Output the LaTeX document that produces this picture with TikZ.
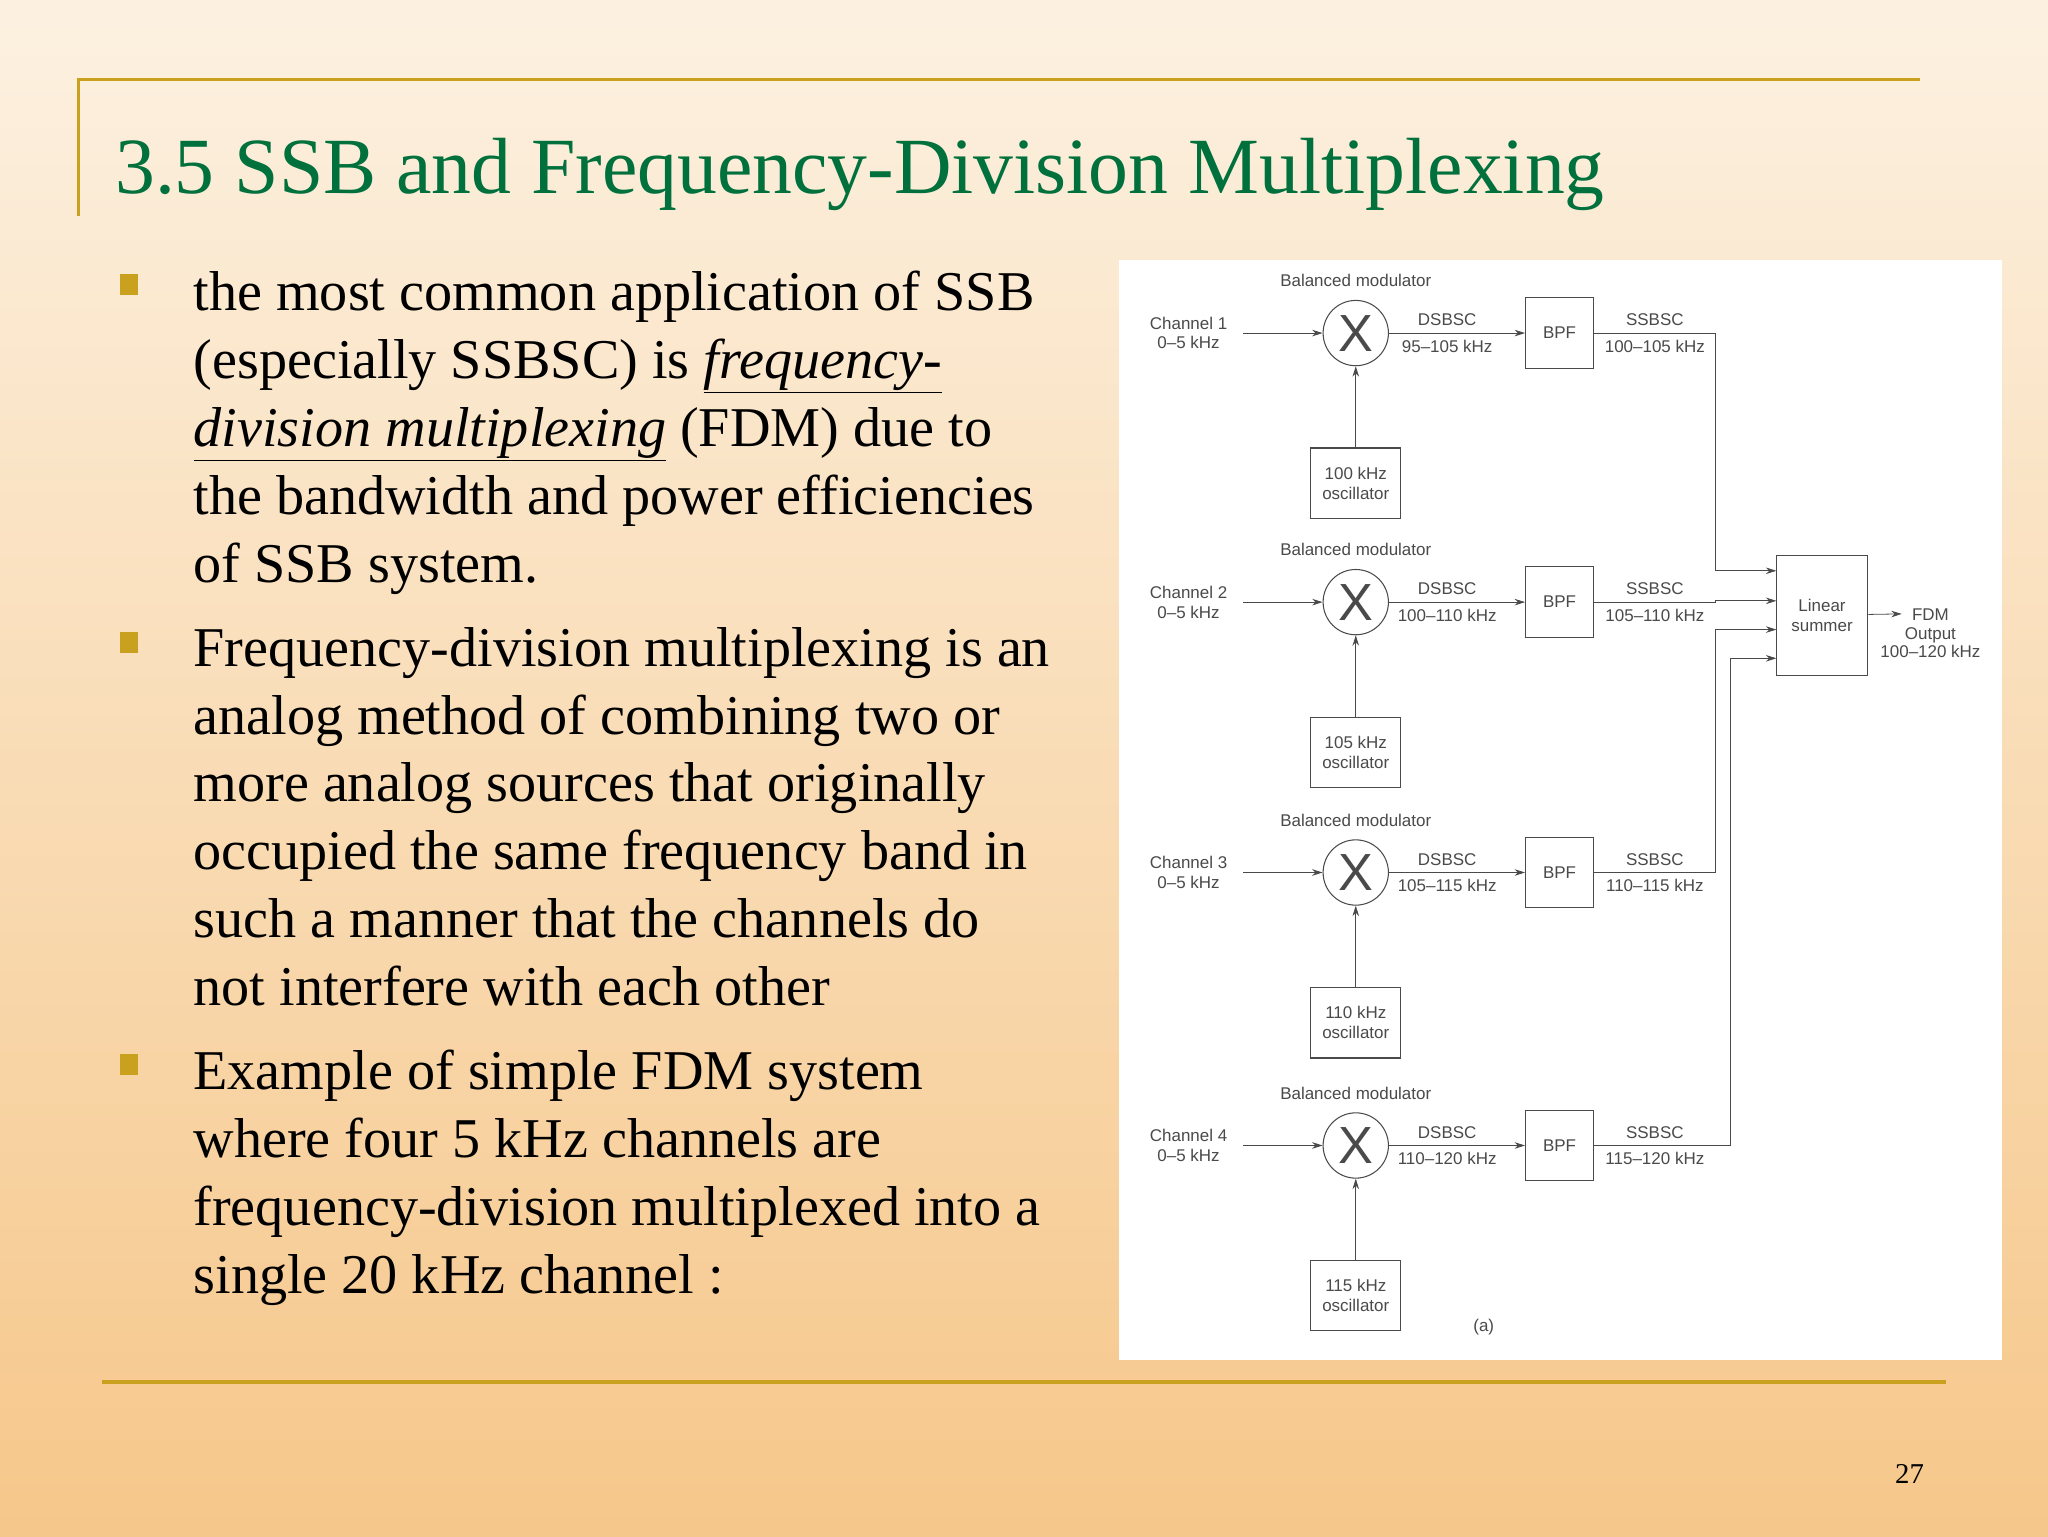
\documentclass[tikz,border=0pt]{standalone}
\usepackage{fontspec}
\setmainfont{Liberation Serif}
\newfontfamily\dsans{Liberation Sans}
\usetikzlibrary{arrows.meta}
\definecolor{bgtop}{HTML}{FCF1E1}
\definecolor{bgbot}{HTML}{F6C78A}
\definecolor{rulec}{HTML}{C9A11F}
\definecolor{titlec}{HTML}{00703C}
\definecolor{dg}{HTML}{4A4A4A}
\begin{document}
\begin{tikzpicture}[x=1pt,y=-1pt,
  body/.style={anchor=base west,font=\fontsize{43}{45}\selectfont,inner sep=0},
  lab/.style={font=\dsans\fontsize{13}{15}\selectfont,text=dg,align=center,inner sep=1pt},
  blk/.style={draw=dg,line width=0.8pt,minimum width=52pt,minimum height=54pt,font=\dsans\fontsize{13}{15}\selectfont,text=dg,align=center},
  mix/.style={draw=dg,circle,line width=0.8pt,minimum size=50pt,inner sep=0,font=\dsans\fontsize{40}{40}\selectfont,text=dg},
  wire/.style={draw=dg,line width=0.6pt},
  arr/.style={wire,-{Stealth[length=8pt,width=5pt]}}]
\shade[top color=bgtop,bottom color=bgbot] (0,0) rectangle (1568,1176);
\useasboundingbox (0,0) rectangle (1568,1176);
\draw[rulec,line width=2.5pt] (60,165) -- (60,61) -- (1470,61);
\draw[rulec,line width=2.5pt] (78,1058) -- (1490,1058);
\node[anchor=base west,inner sep=0,text=titlec,font=\fontsize{61}{64}\selectfont] (title) at (88,148) {3.5 SSB and Frequency-Division Multiplexing};
\foreach \y/\n in {218/b1,492/b2,815/b3}{\fill[rulec] (92,\y-8) rectangle (106,\y+8);}
\node[body] (l1) at (148,238) {the most common application of SSB};
\node[body] (l2) at (148,290) {(especially SSBSC) is \underline{\textit{frequency-}}};
\node[body] (l3) at (148,342) {\underline{\textit{division multiplexing}} (FDM) due to};
\node[body] (l4) at (148,394) {the bandwidth and power efficiencies};
\node[body] (l5) at (148,446) {of SSB system.};
\node[body] (m1) at (148,510) {Frequency-division multiplexing is an};
\node[body] (m2) at (148,562) {analog method of combining two or};
\node[body] (m3) at (148,614) {more analog sources that originally};
\node[body] (m4) at (148,666) {occupied the same frequency band in};
\node[body] (m5) at (148,718) {such a manner that the channels do};
\node[body] (m6) at (148,770) {not interfere with each other};
\node[body] (n1) at (148,834) {Example of simple FDM system};
\node[body] (n2) at (148,886) {where four 5 kHz channels are};
\node[body] (n3) at (148,938) {frequency-division multiplexed into a};
\node[body] (n4) at (148,990) {single 20 kHz channel :};
\node[anchor=base,font=\fontsize{22}{24}\selectfont] (pg) at (1462,1136) {27};
% diagram
\fill[white] (857,199) rectangle (1533,1041);
\node[blk,minimum width=70pt,minimum height=92pt] (sum) at (1395,471) {Linear\\summer};
\foreach \i/\y/\ch/\osc/\ds/\ss/\xv/\yin in {1/255/1/100/95–105/100–105/1313/437, 2/461/2/105/100–110/105–110/1313/460, 3/668/3/110/105–115/110–115/1313/482, 4/877/4/115/110–120/115–120/1325/504}{
  \node[lab] (bm\i) at (1038,\y-40) {Balanced modulator};
  \node[lab] (ch\i) at (910,\y) {Channel \ch\\0–5 kHz};
  \coordinate (ci\i) at (952,\y);
  \node[mix] (x\i) at (1038,\y) {X};
  \node[blk] (bpf\i) at (1194,\y) {BPF};
  \node[blk,minimum width=69pt] (osc\i) at (1038,\y+115) {\osc\ kHz\\oscillator};
  \node[lab] (d\i) at (1108,\y-10) {DSBSC};
  \node[lab] (dr\i) at (1108,\y+10) {\ds\ kHz};
  \node[lab] (s\i) at (1267,\y-10) {SSBSC};
  \node[lab] (sr\i) at (1267,\y+10) {\ss\ kHz};
  \draw[arr] (ci\i) -- (x\i);
  \draw[arr] (x\i) -- (bpf\i);
  \draw[arr] (osc\i) -- (x\i);
  \coordinate (in\i) at (1360,\yin);
  \draw[arr] (bpf\i.east) -- (\xv,\y) -- (\xv,\yin) -- (in\i);
}
\coordinate (out) at (1456,470);
\draw[arr] (sum) -- (out);
\node[lab,font=\dsans\fontsize{13}{14}\selectfont] (fdmt) at (1478,485) {FDM\\Output\\100–120 kHz};
\node[lab] (a) at (1136,1016) {(a)};
\end{tikzpicture}
\end{document}
